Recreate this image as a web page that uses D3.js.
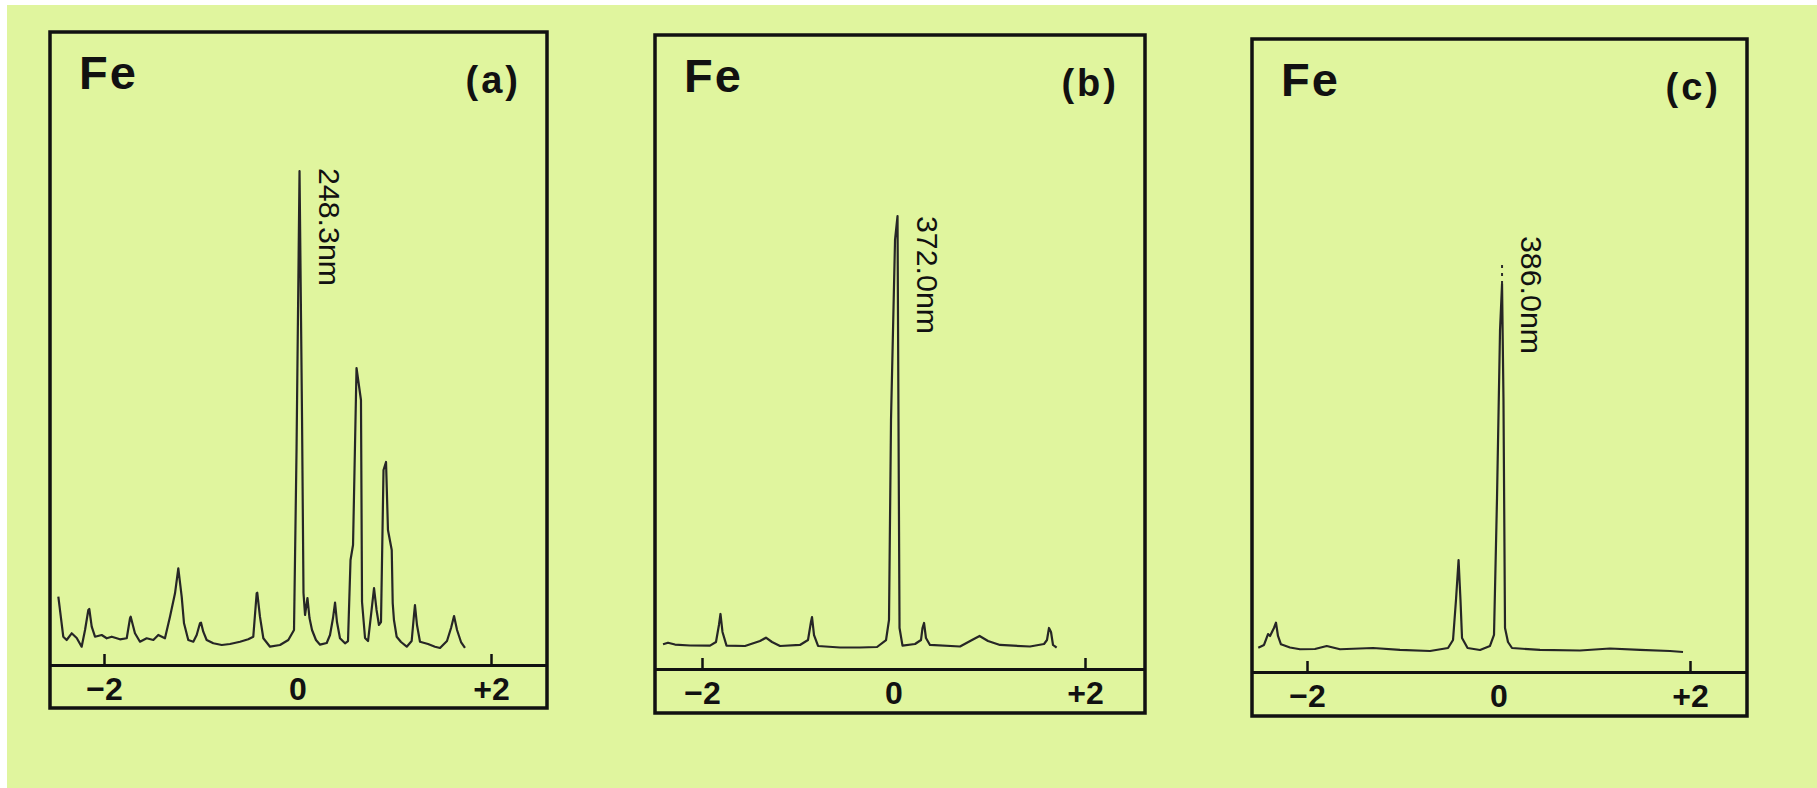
<!DOCTYPE html>
<html>
<head>
<meta charset="utf-8">
<script src="https://cdn.jsdelivr.net/npm/d3@7"></script>
<style>
  html, body { margin: 0; padding: 0; background: #ffffff; }
  svg { display: block; }
</style>
</head>
<body>
<script>
// ---------------- DATA ----------------
const elementLabel = "Fe";
const panelTags = ["(a)", "(b)", "(c)"];
const lineLabels = ["248.3nm", "372.0nm", "386.0nm"];
const tickValues = [-2, 0, 2];
const tickLabels = ["\u22122", "0", "+2"];
const tickMarks = [-2, 2];

// panel (a) : wavelength offset (nm) and relative intensity (% of frame height)
const offsetA = [-2.472,-2.421,-2.386,-2.334,-2.282,-2.231,-2.196,-2.162,-2.152,-2.127,-2.093,-2.024,-1.972,-1.920,-1.835,-1.765,-1.731,-1.724,-1.680,-1.628,-1.559,-1.490,-1.439,-1.370,-1.318,-1.266,-1.232,-1.197,-1.173,-1.129,-1.077,-1.042,-1.008,-0.997,-0.974,-0.939,-0.870,-0.783,-0.698,-0.594,-0.509,-0.457,-0.422,-0.416,-0.388,-0.353,-0.284,-0.181,-0.095,-0.036,-0.010,0.021,0.047,0.062,0.078,0.103,0.124,0.150,0.191,0.233,0.302,0.336,0.367,0.388,0.408,0.439,0.491,0.522,0.548,0.574,0.610,0.656,0.667,0.698,0.729,0.760,0.791,0.817,0.842,0.863,0.889,0.915,0.935,0.974,0.984,0.997,1.025,1.070,1.129,1.180,1.204,1.214,1.235,1.266,1.349,1.421,1.473,1.545,1.587,1.618,1.649,1.690,1.731];
const intensityA = [10.79,4.47,3.95,5.01,4.27,2.89,5.53,8.69,8.85,6.05,4.47,4.74,4.22,4.47,4.06,4.22,7.38,7.63,5.01,3.68,4.22,3.95,4.74,4.22,7.63,11.33,15.28,10.79,6.59,3.95,3.68,4.74,6.59,6.68,5.26,3.95,3.43,3.16,3.32,3.68,4.06,4.47,11.33,11.42,7.63,4.22,2.89,3.16,3.95,5.53,33.97,78.04,38.70,11.37,7.90,10.58,7.42,5.53,3.95,3.21,3.48,4.74,7.42,9.84,6.79,4.22,3.43,3.79,16.59,18.96,46.92,41.86,9.95,4.27,3.79,7.90,12.16,8.69,6.32,6.79,30.81,32.07,21.33,18.17,9.79,7.11,4.47,3.63,2.89,3.79,7.90,9.48,6.32,3.68,3.32,2.89,2.69,3.79,5.85,7.74,5.53,3.63,2.69];

// panel (b)
const offsetB = [-2.407,-2.355,-2.282,-2.125,-1.916,-1.854,-1.823,-1.807,-1.786,-1.744,-1.551,-1.394,-1.332,-1.269,-1.185,-0.977,-0.893,-0.862,-0.851,-0.830,-0.788,-0.559,-0.350,-0.172,-0.078,-0.047,-0.026,0.016,0.042,0.052,0.063,0.094,0.225,0.287,0.303,0.319,0.339,0.381,0.695,0.820,0.899,0.987,1.112,1.426,1.572,1.603,1.624,1.645,1.666,1.704];
const intensityB = [3.90,4.15,3.86,3.71,3.68,4.26,6.94,8.68,5.84,3.68,3.63,4.42,4.94,4.26,3.63,3.79,4.57,7.41,8.20,5.36,3.63,3.39,3.39,3.47,4.57,7.73,39.27,67.67,71.45,39.27,6.47,3.68,3.94,4.57,6.47,7.26,4.89,3.79,3.55,4.57,5.21,4.42,3.79,3.55,3.94,4.57,6.47,5.84,3.79,3.36];

// panel (c)
const offsetC = [-2.509,-2.449,-2.407,-2.386,-2.345,-2.324,-2.303,-2.272,-2.178,-2.073,-1.917,-1.794,-1.655,-1.311,-1.029,-0.715,-0.527,-0.475,-0.444,-0.417,-0.397,-0.381,-0.323,-0.193,-0.089,-0.047,-0.016,0.016,0.037,0.052,0.068,0.099,0.141,0.433,0.851,1.164,1.478,1.791,1.927];
const intensityC = [3.84,4.27,6.00,5.69,6.95,7.79,5.69,4.38,3.87,3.59,3.63,4.11,3.59,3.79,3.48,3.32,3.79,5.06,11.37,17.69,11.37,5.37,3.79,3.48,4.11,5.85,27.17,54.03,61.30,42.97,6.95,4.74,3.79,3.48,3.40,3.71,3.48,3.32,3.16];
// faint dotted tip above the (c) resonance line
const tipC = [61.3, 64.8];

const offsets = [offsetA, offsetB, offsetC];
const intensities = [intensityA, intensityB, intensityC];

// ---------------- LAYOUT ----------------
const W = 1817, H = 788;
const layout = [
  {left: 50,   right: 547,  top: 32, axisY: 665, bottom: 708, xm2: 104,  xp2: 491,  labelTop: 168},
  {left: 655,  right: 1145, top: 35, axisY: 669, bottom: 713, xm2: 702,  xp2: 1085, labelTop: 216},
  {left: 1252, right: 1747, top: 39, axisY: 672, bottom: 716, xm2: 1307, xp2: 1690, labelTop: 236}
];
const font = "'Liberation Sans', Arial, Helvetica, sans-serif";
const ink = "#111111";

const svg = d3.select("body").append("svg")
  .attr("width", W).attr("height", H);

svg.append("rect").attr("x", 0).attr("y", 0).attr("width", W).attr("height", H).attr("fill", "#ffffff");
svg.append("rect").attr("x", 7).attr("y", 5).attr("width", W - 7).attr("height", H - 5).attr("fill", "#e0f59e");

layout.forEach((L, i) => {
  const g = svg.append("g");
  const base = d3.scaleLinear().domain([-2, 2]).range([L.xm2, L.xp2]);
  const x = d3.scaleLinear().domain([base.invert(L.left), base.invert(L.right)]).range([L.left, L.right]);
  const y = d3.scaleLinear().domain([0, 100]).range([L.axisY, L.top]);

  // frame
  g.append("rect")
    .attr("x", L.left).attr("y", L.top)
    .attr("width", L.right - L.left).attr("height", L.bottom - L.top)
    .attr("fill", "none").attr("stroke", ink).attr("stroke-width", 3.5);

  // axis line with upward tick marks
  const axTop = g.append("g")
    .attr("transform", `translate(0,${L.axisY})`)
    .call(d3.axisTop(x).tickValues(tickMarks).tickSizeInner(11).tickSizeOuter(0).tickFormat(""));
  axTop.select(".domain").attr("stroke", ink).attr("stroke-width", 3.2);
  axTop.selectAll(".tick line").attr("stroke", ink).attr("stroke-width", 2.5);

  // tick labels inside the scale strip
  const axBot = g.append("g")
    .attr("transform", `translate(0,${L.axisY})`)
    .call(d3.axisBottom(x).tickValues(tickValues).tickSize(0).tickFormat((d, k) => tickLabels[k]));
  axBot.select(".domain").remove();
  axBot.selectAll("text")
    .attr("y", 35).attr("dy", 0)
    .attr("fill", ink)
    .style("font-family", font).style("font-size", "32px").style("font-weight", "bold");

  // spectrum trace
  const pts = d3.zip(offsets[i], intensities[i]);
  const line = d3.line().x(d => x(d[0])).y(d => y(d[1]));
  g.append("path")
    .datum(pts)
    .attr("d", line)
    .attr("fill", "none")
    .attr("stroke", "#262626")
    .attr("stroke-width", 2.2)
    .attr("stroke-linejoin", "round");

  const pk = d3.maxIndex(intensities[i]);
  const pkX = x(offsets[i][pk]);

  if (i === 2) {
    g.append("line")
      .attr("x1", pkX).attr("x2", pkX)
      .attr("y1", y(tipC[0])).attr("y2", y(tipC[1]))
      .attr("stroke", "#2b2b2b").attr("stroke-width", 2)
      .attr("stroke-dasharray", "3,5");
  }

  // element label
  g.append("text")
    .attr("x", L.left + 29).attr("y", L.top + 57)
    .attr("fill", ink)
    .style("font-family", font).style("font-size", "47px").style("font-weight", "bold")
    .style("letter-spacing", "2px")
    .text(elementLabel);

  // panel tag
  g.append("text")
    .attr("x", L.right - 26).attr("y", L.top + 61)
    .attr("text-anchor", "end")
    .attr("fill", ink)
    .style("font-family", font).style("font-size", "38px").style("font-weight", "bold")
    .style("letter-spacing", "3px")
    .text(panelTags[i]);

  // rotated line label
  g.append("text")
    .attr("transform", `translate(${pkX + 19},${L.labelTop}) rotate(90)`)
    .attr("x", 0).attr("y", 0)
    .attr("fill", ink)
    .attr("textLength", 118).attr("lengthAdjust", "spacingAndGlyphs")
    .style("font-family", font).style("font-size", "29px")
    .text(lineLabels[i]);
});
</script>
</body>
</html>
